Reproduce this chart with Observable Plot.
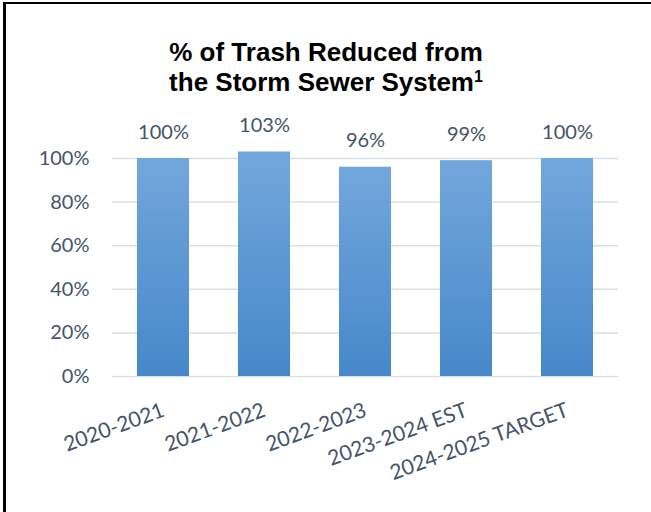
<!DOCTYPE html>
<html>
<head>
<meta charset="utf-8">
<script src="https://cdn.jsdelivr.net/npm/d3@7"></script>
<script src="https://cdn.jsdelivr.net/npm/@observablehq/plot@0.6"></script>
<style>
  html, body { margin: 0; padding: 0; background: #fff; }
  #wrap { position: relative; width: 651px; height: 512px; overflow: hidden; background: #fff; }
  #bl { position: absolute; left: 3px; top: 2px; width: 3px; height: 512px; background: #000; }
  #bt { position: absolute; left: 3px; top: 2px; width: 660px; height: 2.4px; background: #000; }
  #title { position: absolute; left: 0; top: 38px; width: 652px; text-align: center;
    font-family: "Liberation Sans", Arial, sans-serif; font-weight: bold; font-size: 26px;
    line-height: 29.5px; color: #000; z-index: 2; }
  #title sup { font-size: 16px; line-height: 0; vertical-align: 9px; }
  #chart { position: absolute; left: 0; top: 0; }
</style>
</head>
<body>
<div id="wrap">
  <div id="chart"></div>
  <div id="title">% of Trash Reduced from<br>the Storm Sewer System<sup>1</sup></div>
  <div id="bl"></div>
  <div id="bt"></div>
</div>
<script>
const categories = ["2020-2021", "2021-2022", "2022-2023", "2023-2024 EST", "2024-2025 TARGET"];
const values = [1.00, 1.03, 0.96, 0.99, 1.00];
const yTicks = [0, 0.2, 0.4, 0.6, 0.8, 1.0];

const data = categories.map((c, i) => ({cat: c, val: values[i]}));
const pct = d3.format(".0%");
const textColor = "#44546a";

const plot = Plot.plot({
  width: 651,
  height: 512,
  marginLeft: 112,
  marginRight: 33,
  marginTop: 158,
  marginBottom: 136,
  style: {fontFamily: "Lato, 'Open Sans', sans-serif", background: "transparent", overflow: "visible"},
  x: {domain: categories, paddingInner: 0.486, paddingOuter: 0.243},
  y: {domain: [0, 1], ticks: yTicks},
  marks: [
    Plot.gridY(yTicks, {stroke: "#d9dde4", strokeOpacity: 1, strokeWidth: 1.5}),
    Plot.barY(data, {x: "cat", y: "val", fill: "url(#barGrad)"}),
    Plot.text(data, {x: "cat", y: "val", text: d => pct(d.val), lineAnchor: "bottom", dy: -20,
      fontSize: 20, fill: textColor}),
    Plot.axisY(yTicks, {tickSize: 0, tickPadding: 23, tickFormat: pct, fontSize: 20, fill: textColor, label: null}),
    Plot.axisX({tickSize: 0, tickPadding: 33, tickRotate: -20, textAnchor: "end", lineAnchor: "middle",
      fontSize: 21, fill: textColor, label: null})
  ]
});

const ns = "http://www.w3.org/2000/svg";
const defs = document.createElementNS(ns, "defs");
const grad = document.createElementNS(ns, "linearGradient");
grad.setAttribute("id", "barGrad");
grad.setAttribute("x1", "0"); grad.setAttribute("y1", "0");
grad.setAttribute("x2", "0"); grad.setAttribute("y2", "1");
[["0", "#72a7dc"], ["1", "#4688c9"]].forEach(([o, c]) => {
  const s = document.createElementNS(ns, "stop");
  s.setAttribute("offset", o); s.setAttribute("stop-color", c);
  grad.appendChild(s);
});
defs.appendChild(grad);
plot.insertBefore(defs, plot.firstChild);

document.getElementById("chart").appendChild(plot);
</script>
</body>
</html>
